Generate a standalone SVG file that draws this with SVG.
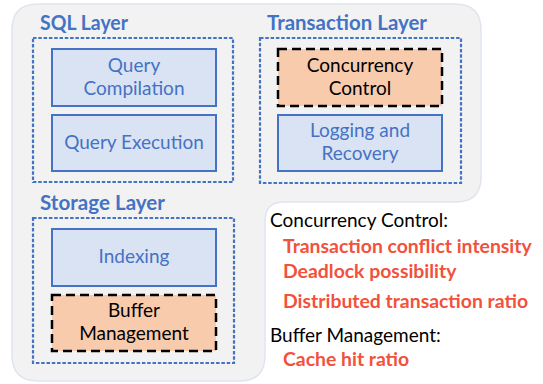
<svg xmlns="http://www.w3.org/2000/svg" width="543" height="384" viewBox="0 0 543 384">
<style>
.bg{fill:#f2f2f2;stroke:#dfe5ee;stroke-width:1.5}
.layer{fill:none;stroke:#4472c4;stroke-width:2.2;stroke-dasharray:3.5 1.8}
.blue{fill:#dae3f3;stroke:#4472c4;stroke-width:2}
.orange{fill:#f8cbad;stroke:#000;stroke-width:2.5;stroke-dasharray:9 5}
.title{font-family:Lato,"Liberation Sans",sans-serif;font-weight:bold;font-size:20px;fill:#4472c4}
.bt{font-family:Lato,"Liberation Sans",sans-serif;font-size:19px;fill:#4472c4;text-anchor:middle}
.kt{font-family:Lato,"Liberation Sans",sans-serif;font-size:19px;fill:#000;text-anchor:middle}
.lab{font-family:Lato,"Liberation Sans",sans-serif;font-size:19px;fill:#000}
.red{font-family:Lato,"Liberation Sans",sans-serif;font-weight:bold;font-size:19.4px;fill:#f2513c}
</style>
<path class="bg" d="M12 30 Q12 4 38 4 H455 Q481 4 481 30 V177 Q481 202 456 202 H284 Q265 202 265 221 V355 Q265 381 240 381 H38 Q12 381 12 355 Z"/>
<g id="sql-layer">
<rect class="layer" x="33" y="38" width="200" height="144"/>
<text class="title" x="40" y="30" textLength="88" lengthAdjust="spacingAndGlyphs">SQL Layer</text>
</g>
<g id="query-compilation">
<rect class="blue" x="52" y="49" width="164" height="57"/>
<text class="bt" x="134" y="72">Query</text>
<text class="bt" x="134" y="95">Compilation</text>
</g>
<g id="query-execution">
<rect class="blue" x="52" y="115" width="164" height="56"/>
<text class="bt" x="134" y="149">Query Execution</text>
</g>
<g id="transaction-layer">
<rect class="layer" x="260" y="38" width="201" height="145"/>
<text class="title" x="267" y="30" textLength="160" lengthAdjust="spacingAndGlyphs">Transaction Layer</text>
</g>
<g id="concurrency-control">
<rect class="orange" x="278" y="49" width="164" height="57"/>
<text class="kt" x="360" y="72">Concurrency</text>
<text class="kt" x="360" y="95">Control</text>
</g>
<g id="logging-recovery">
<rect class="blue" x="278" y="115" width="164" height="56"/>
<text class="bt" x="360" y="137">Logging and</text>
<text class="bt" x="360" y="160">Recovery</text>
</g>
<g id="storage-layer">
<rect class="layer" x="33" y="218" width="201" height="145"/>
<text class="title" x="40" y="210" textLength="125" lengthAdjust="spacingAndGlyphs">Storage Layer</text>
</g>
<g id="indexing">
<rect class="blue" x="52" y="229" width="164" height="57"/>
<text class="bt" x="134" y="263">Indexing</text>
</g>
<g id="buffer-management">
<rect class="orange" x="52" y="295" width="164" height="56"/>
<text class="kt" x="134" y="317">Buffer</text>
<text class="kt" x="134" y="340">Management</text>
</g>
<g id="connectors"></g>
<g id="notes">
<text class="lab" x="270" y="227">Concurrency Control:</text>
<text class="red" x="283" y="253">Transaction conflict intensity</text>
<text class="red" x="283" y="278">Deadlock possibility</text>
<text class="red" x="283" y="308">Distributed transaction ratio</text>
<text class="lab" x="270" y="342">Buffer Management:</text>
<text class="red" x="283" y="366">Cache hit ratio</text>
</g>
</svg>
